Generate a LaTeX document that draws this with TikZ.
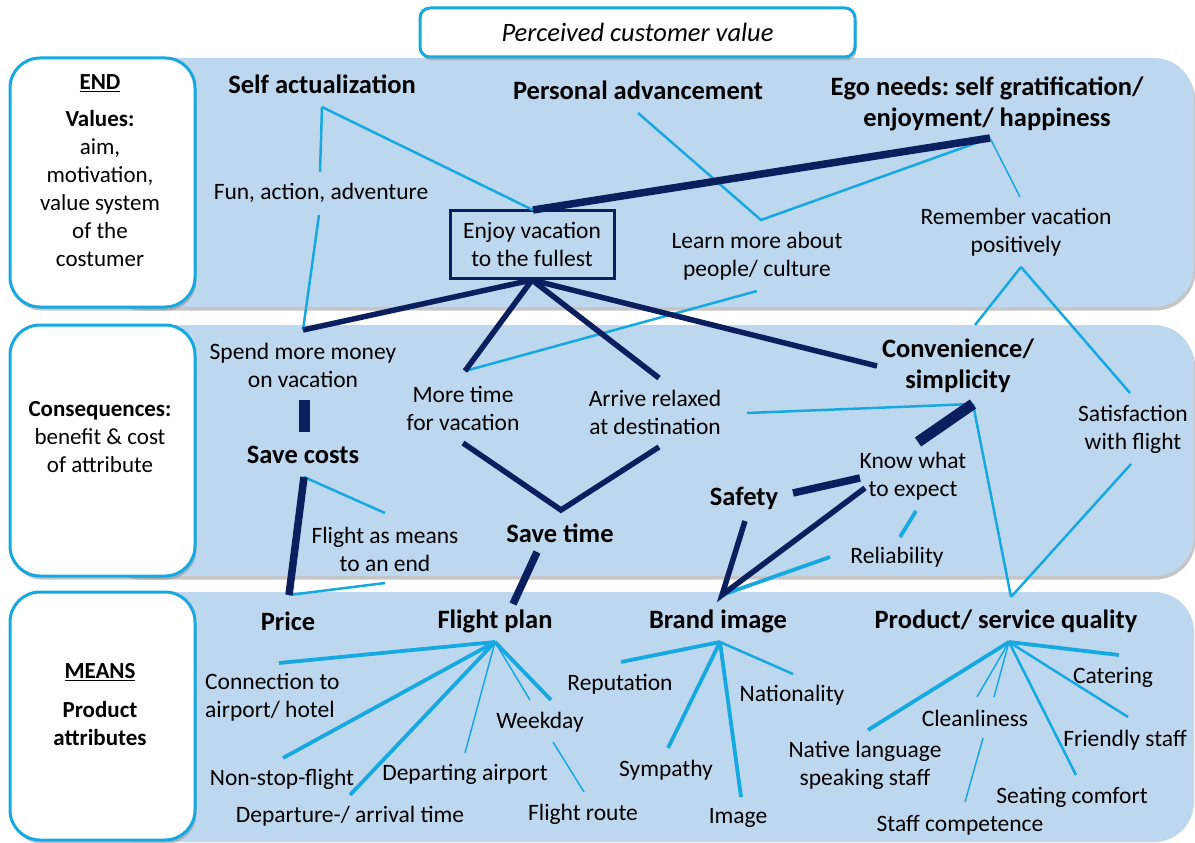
\documentclass[tikz,border=0pt]{standalone}
\usepackage{fontspec}
\setmainfont{Carlito}
\usepackage{tikz}
\usetikzlibrary{shadows}
\frenchspacing

\definecolor{band}{HTML}{BDD7EE}
\definecolor{sky}{HTML}{16A9E1}
\definecolor{navy}{HTML}{0B1F5E}

\begin{document}
\begin{tikzpicture}[x=1pt,y=1pt]
\tikzstyle{every node}+=[inner sep=0pt, align=center, font=\fontsize{23.5}{28}\selectfont]
\tikzstyle{head}=[font=\fontsize{26.5}{31}\selectfont\bfseries]
\tikzstyle{side}=[font=\fontsize{23}{28}\selectfont]
\tikzstyle{shade}=[drop shadow={shadow xshift=1.5pt, shadow yshift=-3.5pt, fill=black!45}]
\tikzstyle{level}=[draw=sky, line width=3, fill=white, rounded corners=30, shade]
\tikzstyle{cya1}=[sky, line width=1.5]
\tikzstyle{cya2}=[sky, line width=2.5]
\tikzstyle{cya3}=[sky, line width=3.8]
\tikzstyle{nav1}=[navy, line width=5.5]
\tikzstyle{nav2}=[navy, line width=7.5]
\tikzstyle{nav3}=[navy, line width=11]
\useasboundingbox (0,0) rectangle (1195,-843);
\fill[band, rounded corners=40, shade] (100,-58) rectangle (1194,-307);
\fill[band, rounded corners=40, shade] (100,-325) rectangle (1194,-576);
\fill[band, rounded corners=40] (100,-592) rectangle (1194,-842);
\draw[level] (10,-58) rectangle (195,-307);
\draw[level] (10,-325) rectangle (195,-576);
\draw[level] (10,-592) rectangle (195,-840);
\node[draw=sky, line width=3, fill=white, rounded corners=10, minimum width=435, minimum height=49, shade, font=\fontsize{26.5}{30}\selectfont\itshape] (title) at (637.5,-32.5) {Perceived customer value};
\node[side] (endlbl) at (100,-83) {\textbf{\underline{END}}};
\node[side] (values) at (100,-189) {\textbf{Values:}\\aim,\\motivation,\\value system\\of the\\costumer};
\node[side] (conseq) at (100,-437) {\textbf{Consequences:}\\benefit \& cost\\of attribute};
\node[side] (meanslbl) at (100,-672) {\textbf{\underline{MEANS}}};
\node[side] (attrib) at (100,-723.5) {\textbf{Product}\\\textbf{attributes}};

\node[head] (selfact) at (322,-84) {Self actualization};
\node[head] (persadv) at (638,-90) {Personal advancement};
\node[head] (ego) at (987,-104) {Ego needs: self gratification/\\enjoyment/ happiness};
\node (fun) at (321,-193) {Fun, action, adventure};
\node[draw=navy, line width=3, minimum width=164, minimum height=68] (enjoy) at (532,-244) {Enjoy vacation\\to the fullest};
\node (learn) at (757,-256) {Learn more about\\people/ culture};
\node (remember) at (1016,-232) {Remember vacation\\positively};
\node (spend) at (303,-365) {Spend more money\\on vacation};
\node[head] (savecost) at (303,-455) {Save costs};
\node (moretime) at (463,-408) {More time\\for vacation};
\node (arrive) at (655,-412) {Arrive relaxed\\at destination};
\node[head] (conv) at (958,-366) {Convenience/\\simplicity};
\node (satisf) at (1133,-429) {Satisfaction\\with flight};
\node (know) at (913,-476) {Know what\\to expect};
\node[head] (safety) at (744,-498) {Safety};
\node[head] (savetime) at (560,-533) {Save time};
\node (means) at (385,-549) {Flight as means\\to an end};
\node (reliab) at (897,-557) {Reliability};
\node[head] (price) at (288,-621) {Price};
\node[head] (plan) at (495,-621) {Flight plan};
\node[head] (brand) at (718,-621) {Brand image};
\node[head] (quality) at (1006,-621) {Product/ service quality};
\node[align=left, anchor=west] (connect) at (205,-697) {Connection to\\airport/ hotel};
\node (nonstop) at (282,-779) {Non-stop-flight};
\node (depart) at (465,-774) {Departing airport};
\node (deptime) at (350,-816) {Departure-/ arrival time};
\node (weekday) at (540,-722) {Weekday};
\node (route) at (583,-814) {Flight route};
\node (reput) at (620,-684) {Reputation};
\node (nation) at (792,-695) {Nationality};
\node (sympathy) at (666,-770) {Sympathy};
\node (image) at (738,-818) {Image};
\node (catering) at (1113,-677) {Catering};
\node (clean) at (975,-718) {Cleanliness};
\node (friendly) at (1125,-740) {Friendly staff};
\node (native) at (865,-765) {Native language\\speaking staff};
\node (seating) at (1072,-797) {Seating comfort};
\node (compet) at (960,-825) {Staff competence};

\coordinate (selfact-b) at (322,-107);
\coordinate (persadv-b) at (638,-113);
\coordinate (ego-b) at (990,-138);
\coordinate (fun-t) at (320,-172);
\coordinate (fun-b) at (319,-215);
\coordinate (enjoy-t) at (533,-210);
\coordinate (enjoy-b) at (532,-280);
\coordinate (learn-t) at (761,-220);
\coordinate (learn-b) at (757,-291);
\coordinate (remember-t) at (1020,-197);
\coordinate (remember-b) at (1021,-267);
\coordinate (spend-t) at (303,-330);
\coordinate (spend-b) at (304,-400);
\coordinate (savecost-t) at (304,-432);
\coordinate (savecost-b) at (304,-477);
\coordinate (moretime-t) at (465,-371);
\coordinate (moretime-b) at (463,-443);
\coordinate (arrive-t) at (659,-378);
\coordinate (arrive-b) at (659,-447);
\coordinate (arrive-r) at (747,-413);
\coordinate (conv-t) at (975,-325);
\coordinate (conv-l) at (877,-366);
\coordinate (conv-b) at (973,-404);
\coordinate (satisf-t) at (1130,-393);
\coordinate (satisf-b) at (1131,-464);
\coordinate (know-t) at (918,-442);
\coordinate (know-l) at (860,-478);
\coordinate (know-bl) at (865,-488);
\coordinate (know-b) at (916,-511);
\coordinate (safety-r) at (793,-493);
\coordinate (safety-b) at (745,-521);
\coordinate (savetime-t) at (561,-510);
\coordinate (savetime-b) at (537,-552);
\coordinate (means-t) at (385,-513);
\coordinate (means-b) at (385,-583);
\coordinate (reliab-t) at (900,-537);
\coordinate (reliab-l) at (830,-557);
\coordinate (price-t) at (289,-595);
\coordinate (plan-t) at (513,-604);
\coordinate (plan-b) at (495,-642);
\coordinate (brand-t) at (722,-595);
\coordinate (brand-b) at (720,-642);
\coordinate (quality-t) at (1011,-597);
\coordinate (quality-b) at (1009,-642);
\coordinate (connect-t) at (279,-663);
\coordinate (nonstop-t) at (283,-758);
\coordinate (depart-t) at (465,-753);
\coordinate (deptime-t) at (350,-795);
\coordinate (weekday-t1) at (530,-700);
\coordinate (weekday-t2) at (551,-700);
\coordinate (weekday-b) at (553,-742);
\coordinate (route-t) at (584,-792);
\coordinate (reput-t) at (621,-662);
\coordinate (nation-t) at (793,-674);
\coordinate (sympathy-t) at (668,-748);
\coordinate (image-t) at (741,-797);
\coordinate (catering-t) at (1119,-655);
\coordinate (clean-t1) at (977,-697);
\coordinate (clean-t2) at (994,-697);
\coordinate (clean-b) at (983,-738);
\coordinate (friendly-t) at (1128,-717);
\coordinate (native-t) at (868,-730);
\coordinate (seating-t) at (1076,-775);
\coordinate (compet-t) at (965,-802);

\draw[cya2] (selfact-b) -- (fun-t);
\draw[cya2] (fun-b) -- (spend-t);
\draw[cya2] (selfact-b) -- (enjoy-t);
\draw[cya2] (persadv-b) -- (learn-t) -- (ego-b);
\draw[cya1] (ego-b) -- (remember-t);
\draw[cya2] (learn-b) -- (moretime-t);
\draw[cya2] (remember-b) -- (conv-t);
\draw[cya2] (remember-b) -- (satisf-t);
\draw[cya2] (savecost-b) -- (means-t);
\draw[cya2] (means-b) -- (price-t);
\draw[cya2] (arrive-r) -- (conv-b);
\draw[cya2] (conv-b) -- (quality-t);
\draw[cya2] (satisf-b) -- (quality-t);
\draw[cya3] (know-b) -- (reliab-t);
\draw[cya3] (reliab-l) -- (brand-t);

\draw[nav2] (enjoy-t) -- (ego-b);
\draw[nav1] (enjoy-b) -- (spend-t);
\draw[nav1] (enjoy-b) -- (moretime-t);
\draw[nav1] (enjoy-b) -- (arrive-t);
\draw[nav1] (enjoy-b) -- (conv-l);
\draw[nav3] (spend-b) -- (savecost-t);
\draw[nav2] (savecost-b) -- (price-t);
\draw[nav1] (moretime-b) -- (savetime-t) -- (arrive-b);
\draw[nav2] (savetime-b) -- (plan-t);
\draw[nav3] (conv-b) -- (know-t);
\draw[nav2] (know-l) -- (safety-r);
\draw[nav1] (know-bl) -- (brand-t) -- (safety-b);

\draw[cya3] (plan-b) -- (connect-t);
\draw[cya3] (plan-b) -- (nonstop-t);
\draw[cya3] (plan-b) -- (deptime-t);
\draw[cya1] (plan-b) -- (depart-t);
\draw[cya1] (plan-b) -- (weekday-t1);
\draw[cya3] (plan-b) -- (weekday-t2);
\draw[cya1] (weekday-b) -- (route-t);
\draw[cya3] (brand-b) -- (reput-t);
\draw[cya2] (brand-b) -- (nation-t);
\draw[cya3] (brand-b) -- (sympathy-t);
\draw[cya3] (brand-b) -- (image-t);
\draw[cya3] (quality-b) -- (catering-t);
\draw[cya3] (quality-b) -- (native-t);
\draw[cya1] (quality-b) -- (clean-t1);
\draw[cya1] (quality-b) -- (clean-t2);
\draw[cya2] (quality-b) -- (friendly-t);
\draw[cya2] (quality-b) -- (seating-t);
\draw[cya1] (clean-b) -- (compet-t);
\end{tikzpicture}
\end{document}
